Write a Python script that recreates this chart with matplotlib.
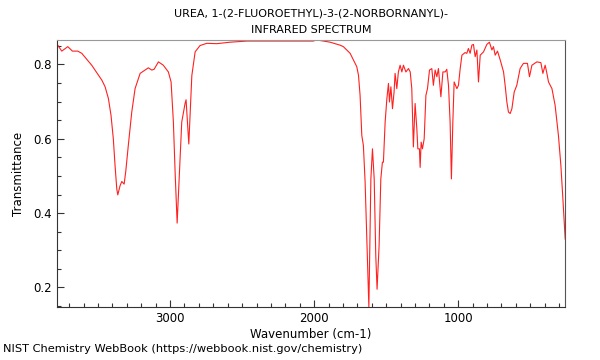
import matplotlib
matplotlib.use('Agg')
import matplotlib.pyplot as plt
from matplotlib.ticker import MultipleLocator
import numpy as np

# spectrum
wavenumber = [3785, 3780, 3752, 3710, 3678, 3641, 3613, 3578, 3544, 3509, 3474, 3451,
              3428, 3410, 3394, 3382, 3370, 3363, 3347, 3335, 3319, 3308, 3290, 3266,
              3243, 3208, 3174, 3151, 3127, 3111, 3081, 3047, 3012, 2993, 2977, 2965,
              2951, 2937, 2919, 2896, 2889, 2870, 2849, 2826, 2792, 2745, 2676, 2583,
              2467, 2236, 2007, 1981, 1889, 1820, 1797, 1774, 1750, 1727, 1704, 1692,
              1681, 1669, 1658, 1646, 1634, 1620, 1606, 1595, 1583, 1572, 1563, 1549,
              1537, 1526, 1519, 1507, 1495, 1484, 1477, 1467, 1456, 1445, 1438, 1426,
              1415, 1403, 1391, 1380, 1363, 1345, 1333, 1322, 1311, 1299, 1287, 1280,
              1269, 1264, 1257, 1248, 1236, 1224, 1213, 1199, 1183, 1172, 1160, 1148,
              1137, 1120, 1106, 1090, 1079, 1067, 1056, 1047, 1037, 1028, 1009, 998,
              986, 974, 952, 940, 929, 917, 905, 894, 882, 870, 859, 847, 824, 801,
              783, 766, 755, 743, 727, 708, 685, 674, 662, 651, 639, 627, 611, 593,
              570, 547, 519, 505, 488, 454, 426, 412, 396, 384, 373, 349, 327, 304,
              287, 273, 257]
transmittance = [0.851, 0.852, 0.836, 0.848, 0.836, 0.836, 0.830, 0.814, 0.798, 0.778, 0.758, 0.740,
                 0.708, 0.663, 0.600, 0.528, 0.465, 0.449, 0.474, 0.485, 0.478, 0.511, 0.582, 0.672,
                 0.735, 0.776, 0.785, 0.791, 0.785, 0.787, 0.807, 0.798, 0.780, 0.753, 0.645, 0.510,
                 0.373, 0.492, 0.645, 0.695, 0.705, 0.586, 0.770, 0.834, 0.851, 0.857, 0.856, 0.860,
                 0.863, 0.863, 0.863, 0.866, 0.860, 0.852, 0.848, 0.839, 0.830, 0.812, 0.794, 0.771,
                 0.717, 0.609, 0.582, 0.483, 0.330, 0.147, 0.492, 0.573, 0.492, 0.285, 0.195, 0.312,
                 0.492, 0.537, 0.537, 0.645, 0.708, 0.749, 0.699, 0.740, 0.681, 0.726, 0.776, 0.735,
                 0.780, 0.798, 0.780, 0.798, 0.780, 0.789, 0.780, 0.735, 0.578, 0.695, 0.627, 0.573,
                 0.573, 0.523, 0.591, 0.573, 0.600, 0.717, 0.735, 0.785, 0.789, 0.744, 0.785, 0.767,
                 0.789, 0.713, 0.780, 0.780, 0.787, 0.743, 0.645, 0.492, 0.645, 0.753, 0.735, 0.744,
                 0.789, 0.825, 0.832, 0.830, 0.843, 0.830, 0.852, 0.854, 0.821, 0.839, 0.753, 0.825, 0.834, 0.854,
                 0.860, 0.839, 0.848, 0.825, 0.836, 0.812, 0.780, 0.744, 0.699, 0.672, 0.668, 0.681, 0.726, 0.744,
                 0.789, 0.803, 0.803, 0.767, 0.798, 0.807, 0.805, 0.776, 0.798, 0.776, 0.753, 0.735, 0.690, 0.609,
                 0.528, 0.438, 0.330]

title = 'UREA, 1-(2-FLUOROETHYL)-3-(2-NORBORNANYL)-\nINFRARED SPECTRUM'
footer = 'NIST Chemistry WebBook (https://webbook.nist.gov/chemistry)'

fig = plt.figure(figsize=(6, 3.6), dpi=100)
ax = fig.add_axes([0.095, 0.147, 0.847, 0.742])
ax.plot(wavenumber, transmittance, color='#ff2020', lw=0.8)

ax.set_xlim(max(wavenumber), min(wavenumber))
ax.set_ylim(min(transmittance), max(transmittance))

ax.xaxis.set_major_locator(MultipleLocator(1000))
ax.xaxis.set_minor_locator(MultipleLocator(100))
ax.yaxis.set_major_locator(MultipleLocator(0.2))
ax.yaxis.set_minor_locator(MultipleLocator(0.05))
ax.tick_params(which='both', direction='in', labelsize=8.5, width=0.8, color='#333333')
ax.tick_params(which='major', length=5)
ax.tick_params(which='minor', length=3)

ax.spines['top'].set_color('#999999')
ax.spines['right'].set_color('#555555')
ax.spines['left'].set_color('#333333')
ax.spines['bottom'].set_color('#333333')

ax.set_xlabel('Wavenumber (cm-1)', fontsize=8.5, labelpad=2)
ax.set_ylabel('Transmittance', fontsize=8.5, labelpad=6)
ax.set_title(title, fontsize=8, linespacing=1.8, pad=5)
fig.text(0.005, 0.022, footer, fontsize=8.2)

fig.savefig('out.png', dpi=100)
